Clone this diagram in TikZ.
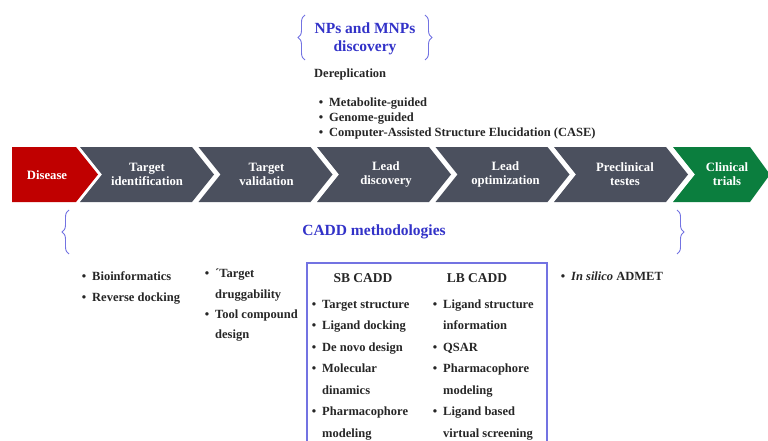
\documentclass[tikz,border=0pt]{standalone}
\usepackage{fontspec}
\setmainfont{Liberation Serif}
\usetikzlibrary{positioning,decorations.pathreplacing}
\definecolor{disred}{HTML}{C00000}
\definecolor{slate}{HTML}{4B505E}
\definecolor{trialgreen}{HTML}{0B7E3E}
\definecolor{caddblue}{HTML}{3232C8}
\definecolor{boxblue}{HTML}{7373E2}
\tikzset{stage text/.style={text=white, font=\bfseries\fontsize{12.7}{14}\selectfont, align=center, inner sep=0pt}}
\tikzset{blue head/.style={text=caddblue, font=\bfseries\fontsize{15.5}{18}\selectfont, align=center, inner sep=0pt}}
\tikzset{side brace/.style={draw=boxblue, line width=0.9pt, decorate, decoration={brace, amplitude=7pt}}}
\tikzset{item/.style={anchor=base west, inner sep=0pt, text=black!85, font=\bfseries\fontsize{12.5}{14}\selectfont}}
\tikzset{col head/.style={anchor=base, inner sep=0pt, text=black!85, font=\bfseries\fontsize{13.5}{15}\selectfont}}
\newcommand{\bul}{\llap{\textbullet\hspace{6pt}}}

\begin{document}
\begin{tikzpicture}[x=1pt,y=-1pt]
	\useasboundingbox (0,0) rectangle (768,441);

	% natural products part
	\node[blue head] (npd) at (365,39) {NPs and MNPs\\discovery};
	\draw[side brace] (305,60) -- (305,15);
	\draw[side brace] (425,15) -- (425,60);
	\node[item] (derep) at (314,78) {Dereplication};
	\node[item] (mg) at (329,107) {\bul Metabolite-guided};
	\node[item] (gg) at (329,122) {\bul Genome-guided};
	\node[item] (case) at (329,136.5) {\bul Computer-Assisted Structure Elucidation (CASE)};

	% pipeline
	\fill[disred] (12,147) -- (76,147) -- (98,174.5) -- (76,202) -- (12,202) -- cycle;
	\node[stage text] (disease) at (47,175) {Disease};
	\foreach \l/\tx/\name/\lbl in {80/147/tid/Target\\identification, 198.5/266.5/tval/Target\\validation,
		317/386/ldis/Lead\\discovery, 435.5/505.5/lopt/Lead\\optimization, 554/625/pre/Preclinical\\testes}{
		\fill[slate] (\l,147) -- (\l+112,147) -- (\l+134,174.5) -- (\l+112,202) -- (\l,202) -- (\l+22,174.5) -- cycle;
		\node[stage text] (\name) at (\tx,174.5) {\lbl};
	}
	\fill[trialgreen] (673,147) -- (750,147) -- (770,174.5) -- (750,202) -- (673,202) -- (695,174.5) -- cycle;
	\node[stage text] (clin) at (727,174.5) {Clinical\\trials};

	% CADD part
	\node[blue head] (cadd) at (374,232) {CADD methodologies};
	\draw[side brace] (69,254) -- (69,210);
	\draw[side brace] (677,210) -- (677,254);

	\node[item] (bio) at (92,280) {\bul Bioinformatics};
	\node[item] (rev) at (92,301) {\bul Reverse docking};

	\node[item] (drug1) at (215,277) {\bul ´Target};
	\node[item] (drug2) at (215,298) {druggability};
	\node[item] (tool1) at (215,318) {\bul Tool compound};
	\node[item] (tool2) at (215,338) {design};

	\draw[boxblue, line width=1.3pt] (307,445) -- (307,263) -- (547,263) -- (547,445);
	\node[col head] (sb) at (363,282) {SB CADD};
	\node[col head] (lb) at (477,282) {LB CADD};
	\foreach \t [count=\i] in {\bul Target structure, \bul Ligand docking, \bul De novo design,
		\bul Molecular, dinamics, \bul Pharmacophore, modeling}
		\node[item] (sb-\i) at (322,286.5+21.5*\i) {\t};
	\foreach \t [count=\i] in {\bul Ligand structure, information, \bul QSAR,
		\bul Pharmacophore, modeling, \bul Ligand based, virtual screening}
		\node[item] (lb-\i) at (443,286.5+21.5*\i) {\t};

	\node[item] (adm) at (571,280) {\bul \textit{In silico} ADMET};
\end{tikzpicture}
\end{document}
